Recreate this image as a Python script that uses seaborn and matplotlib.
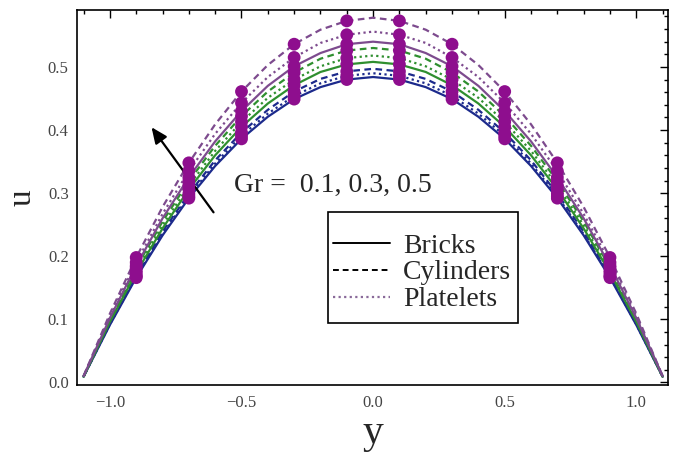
import numpy as np
import pandas as pd
import matplotlib
matplotlib.use("Agg")
import matplotlib.pyplot as plt
from matplotlib.lines import Line2D
from matplotlib.patches import Rectangle
from matplotlib.ticker import MultipleLocator
import seaborn as sns

# ---- data (half profiles, y >= 0, mirrored for y < 0) ----
y_half = [0.0, 0.1, 0.2, 0.3, 0.4, 0.5, 0.6, 0.7, 0.8, 0.9, 1.0, 1.1]
gr_values = ["0.1", "0.3", "0.5"]
shapes = ["Bricks", "Cylinders", "Platelets"]

u_bricks_01 = [0.484, 0.480, 0.468, 0.449, 0.421, 0.386, 0.343, 0.292, 0.233, 0.166, 0.091, 0.009]
u_platelets_01 = [0.490, 0.486, 0.474, 0.454, 0.426, 0.391, 0.347, 0.295, 0.235, 0.168, 0.092, 0.009]
u_cylinders_01 = [0.497, 0.493, 0.481, 0.461, 0.432, 0.396, 0.352, 0.299, 0.239, 0.170, 0.094, 0.009]
u_bricks_03 = [0.508, 0.504, 0.492, 0.471, 0.442, 0.405, 0.360, 0.306, 0.244, 0.174, 0.096, 0.009]
u_platelets_03 = [0.518, 0.514, 0.501, 0.480, 0.451, 0.413, 0.367, 0.312, 0.249, 0.177, 0.098, 0.009]
u_cylinders_03 = [0.530, 0.526, 0.513, 0.491, 0.461, 0.422, 0.375, 0.319, 0.255, 0.182, 0.100, 0.010]
u_bricks_05 = [0.540, 0.536, 0.522, 0.501, 0.470, 0.430, 0.382, 0.325, 0.260, 0.185, 0.102, 0.010]
u_platelets_05 = [0.556, 0.551, 0.538, 0.515, 0.484, 0.443, 0.394, 0.335, 0.267, 0.190, 0.105, 0.010]
u_cylinders_05 = [0.578, 0.573, 0.559, 0.536, 0.503, 0.461, 0.409, 0.348, 0.278, 0.198, 0.109, 0.010]

marker_y = [-0.9, -0.7, -0.5, -0.3, -0.1, 0.1, 0.3, 0.5, 0.7, 0.9]

x_ticks = [-1.0, -0.5, 0.0, 0.5, 1.0]
y_ticks = [0.0, 0.1, 0.2, 0.3, 0.4, 0.5]

curves = {
    ("0.1", "Bricks"): u_bricks_01, ("0.1", "Platelets"): u_platelets_01, ("0.1", "Cylinders"): u_cylinders_01,
    ("0.3", "Bricks"): u_bricks_03, ("0.3", "Platelets"): u_platelets_03, ("0.3", "Cylinders"): u_cylinders_03,
    ("0.5", "Bricks"): u_bricks_05, ("0.5", "Platelets"): u_platelets_05, ("0.5", "Cylinders"): u_cylinders_05,
}

rows = []
for (gr, sh), half in curves.items():
    ys = [-v for v in y_half[::-1]] + y_half[1:]
    us = half[::-1] + half[1:]
    for yv, uv in zip(ys, us):
        rows.append({"y": round(yv, 2), "u": uv, "Gr": gr, "shape": sh})
df = pd.DataFrame(rows)

sns.set_theme(style="white")
plt.rcParams["font.family"] = ["Liberation Serif", "DejaVu Serif"]

fig = plt.figure(figsize=(6.73, 4.61), dpi=100)
ax = fig.add_axes([0.1144, 0.165, 0.878, 0.813])

palette = {"0.1": "#1c2a8c", "0.3": "#2f8f2f", "0.5": "#7d4b8e"}
dashes = {"Bricks": "", "Cylinders": (3, 2), "Platelets": (1, 1.5)}
sns.lineplot(data=df, x="y", y="u", hue="Gr", style="shape", palette=palette,
             dashes=dashes, linewidth=1.6, legend=False, ax=ax, sort=True)

mk = df[df["y"].isin(marker_y)]
sns.scatterplot(data=mk, x="y", y="u", color="#8e0e8e", s=85, edgecolor="none",
                legend=False, ax=ax, zorder=5)

ax.set_xlim(-1.125, 1.12)
ax.set_ylim(-0.004, 0.59)
ax.set_xticks(x_ticks)
ax.set_yticks(y_ticks)
ax.set_xticklabels([f"{v:.1f}".replace("-", "\u2212") for v in x_ticks])
ax.set_yticklabels([f"{v:.1f}" for v in y_ticks])
ax.xaxis.set_minor_locator(MultipleLocator(0.1))
ax.yaxis.set_minor_locator(MultipleLocator(0.02))
ax.tick_params(which="both", direction="in", top=True, right=True, color="black",
               labelsize=12, labelcolor="#444444", width=1.0)
ax.tick_params(which="major", length=6)
ax.tick_params(axis="x", which="major", pad=7)
ax.tick_params(axis="y", which="major", pad=6)
ax.tick_params(which="minor", length=3)
for s in ax.spines.values():
    s.set_color("black")
    s.set_linewidth(1.2)

ax.set_xlabel("y", fontsize=30, labelpad=2)
ax.set_ylabel("u", fontsize=24, labelpad=7)

ax.annotate("", xy=(-0.848, 0.408), xytext=(-0.60, 0.266),
            arrowprops=dict(arrowstyle="-|>,head_length=0.8,head_width=0.35", color="black", lw=1.6))
ax.text(-0.53, 0.313, "Gr =  0.1, 0.3, 0.5", fontsize=20, va="center", ha="left")

handles = [Line2D([], [], color="black", lw=1.4, linestyle="-"),
           Line2D([], [], color="black", lw=1.4, linestyle=(0, (3, 2))),
           Line2D([], [], color="#8a6a9a", lw=1.6, linestyle=(0, (1, 1.5)))]
leg = ax.legend(handles, shapes, loc="upper left", bbox_to_anchor=(0.433, 0.405),
                fontsize=20, frameon=False, handlelength=2.05,
                borderpad=0, labelspacing=0.05, handletextpad=0.47, borderaxespad=0)
ax.add_patch(Rectangle((0.4247, 0.1653), 0.3215, 0.296, transform=ax.transAxes,
                       fill=True, facecolor="white", edgecolor="black", lw=1.2, zorder=4))
leg.set_zorder(6)

fig.savefig("out.png", dpi=100)
